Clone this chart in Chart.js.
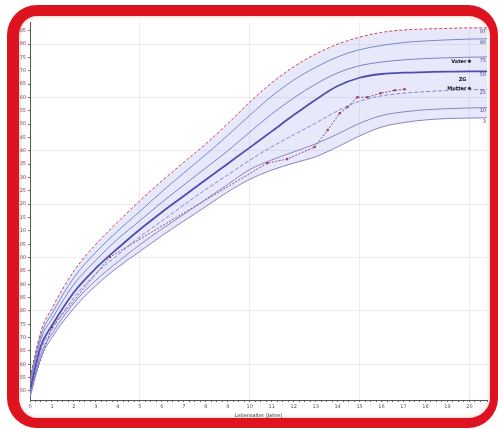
<!DOCTYPE html>
<html>
<head>
<meta charset="utf-8">
<script src="https://cdn.jsdelivr.net/npm/chart.js@4/dist/chart.umd.min.js"></script>
<style>
    html, body { margin: 0; padding: 0; background: #ffffff; }
    .wrap { position: relative; width: 498px; height: 429px; overflow: hidden; }
    #growthChart { position: absolute; left: 0; top: 0; }
    .frame {
        position: absolute; left: 7px; top: 5px; width: 491px; height: 423px;
        box-sizing: border-box;
        border-style: solid; border-color: #dd1420;
        border-width: 11px 8px 10px 12px;
        border-radius: 30px;
        box-shadow: inset 0 0 4px rgba(190, 120, 90, 0.45);
        pointer-events: none;
    }
</style>
</head>
<body>
<div class="wrap">
    <canvas id="growthChart" width="498" height="429"></canvas>
    <div class="frame"></div>
</div>
<script>
// ages in years
const ages = [0, 0.5, 1, 2, 3, 4, 5, 6, 7, 8, 9, 10, 11, 12, 13, 14, 15, 16, 17, 18, 19, 20, 20.8]

// percentile curves (cm)
const p97 = [55, 72.5, 81, 95, 105, 113.4, 121.3, 128.7, 135.7, 142.6, 150.2, 158.2, 165.5, 171.5, 176.3, 180, 182.6, 184.4, 185.3, 185.7, 185.9, 186.1, 186.1]
const p90 = [54, 71, 79, 92.5, 102, 110, 117.3, 124.7, 131.7, 138.6, 145.8, 153.3, 160.5, 166.5, 171.3, 175.2, 177.9, 179.5, 180.6, 181.2, 181.6, 181.9, 182]
const p75 = [52.5, 69.5, 77, 90, 99, 107, 113.8, 120.7, 127.2, 133.6, 140, 147, 153.8, 159.8, 165, 169.2, 171.9, 173.3, 174.1, 174.6, 174.9, 175.1, 175.2]
const p50 = [50.5, 67, 74.5, 87, 96, 103.5, 110.5, 117, 123.1, 129.2, 135.2, 141.2, 147.3, 153.4, 159.2, 164.3, 167.4, 168.8, 169.3, 169.5, 169.7, 169.8, 169.8]
const p25 = [49.5, 65.5, 73, 85, 94, 101, 107.8, 113.7, 119.7, 125.5, 131, 136.5, 141.5, 146, 150.4, 155, 158.6, 160.6, 161.6, 162.2, 162.6, 162.9, 163]
const p10 = [48.5, 64, 71.5, 83, 91.5, 98.4, 104.8, 110.7, 116.2, 121.8, 127.4, 133, 136.6, 139.6, 142.6, 146.3, 150.3, 153.2, 154.6, 155.4, 155.8, 156.1, 156.2]
const p3 = [47.5, 62.5, 70, 81, 89.5, 96.4, 102.3, 108.2, 113.7, 119.1, 124.6, 129.3, 132.8, 135.4, 137.8, 141.5, 145.6, 148.9, 150.6, 151.6, 152.1, 152.3, 152.4]
const percentileLabels = ['97', '90', '75', '50', '25', '10', '3']

// measured child
const childAges = [0, 1, 3.64, 10.8, 11.7, 12.95, 13.55, 14.1, 14.45, 14.9, 15.35, 15.95, 16.6, 17.05]
const childHeights = [50, 74, 100.2, 135.4, 136.9, 141.4, 147.8, 154.1, 156.4, 160.1, 160.1, 161.6, 162.7, 163.1]

// parents / target
const parentAges = [20, 20, 20]
const parentHeights = [173.6, 166.8, 163.4]
const parentLabels = ['Vater', 'ZG', 'Mutter']

const yTicks = [50, 55, 60, 65, 70, 75, 80, 85, 90, 95, 100, 105, 110, 115, 120, 125, 130, 135, 140, 145, 150, 155, 160, 165, 170, 175, 180, 185]

const toPoints = (xs, ys) => xs.map((x, i) => ({ x: x, y: ys[i] }))

function curve(values, color, width, dash) {
    return {
        data: toPoints(ages, values),
        borderColor: color,
        borderWidth: width,
        borderDash: dash || [],
        pointRadius: 0,
        cubicInterpolationMode: 'monotone',
        fill: false
    }
}

const bandTop = curve(p97, '#c83048', 0.9, [3, 2])
bandTop.fill = 6
bandTop.backgroundColor = 'rgba(150, 150, 235, 0.22)'

// labels at the end of curves + parent labels
const labelPlugin = {
    id: 'curveLabels',
    afterDatasetsDraw(chart) {
        const ctx = chart.ctx
        ctx.save()
        ctx.font = '5px "DejaVu Sans"'
        ctx.fillStyle = '#4a4a80'
        ctx.textAlign = 'right'
        ctx.textBaseline = 'top'
        for (let i = 0; i < 7; i++) {
            const pts = chart.getDatasetMeta(i).data
            const last = pts[pts.length - 1]
            ctx.fillText(percentileLabels[i], last.x - 1, last.y + 1)
        }
        const parentMeta = chart.getDatasetMeta(8).data
        ctx.font = 'bold 5px "DejaVu Sans"'
        ctx.fillStyle = '#111111'
        ctx.textBaseline = 'middle'
        parentMeta.forEach((pt, i) => {
            ctx.fillText(parentLabels[i], pt.x - 3, pt.y)
        })
        ctx.restore()
    }
}

const growthChart = new Chart(document.getElementById('growthChart'), {
    type: 'line',
    data: {
        datasets: [
            bandTop,
            curve(p90, '#5a78b8', 0.9),
            curve(p75, '#6868c0', 0.9),
            curve(p50, '#3a3a9c', 1.8),
            curve(p25, '#7070c0', 0.9, [4, 2]),
            curve(p10, '#7a70b8', 0.9),
            curve(p3, '#7a70b8', 0.9),
            {
                data: toPoints(childAges, childHeights),
                borderColor: '#8a3a5a',
                borderWidth: 1,
                borderDash: [2, 1.5],
                pointRadius: 1.3,
                pointBackgroundColor: '#9a3040',
                pointBorderWidth: 0,
                fill: false
            },
            {
                data: toPoints(parentAges, parentHeights),
                showLine: false,
                pointRadius: [1.6, 0, 1.6],
                pointBackgroundColor: '#111111',
                pointBorderWidth: 0
            }
        ]
    },
    options: {
        responsive: false,
        animation: false,
        layout: { padding: { left: 0, top: 22, right: 11, bottom: 10 } },
        plugins: {
            legend: { display: false },
            tooltip: { enabled: false }
        },
        scales: {
            x: {
                type: 'linear',
                min: 0,
                max: 20.8,
                afterFit: (scale) => { scale.height = 19 },
                border: { color: '#555555', width: 1 },
                grid: {
                    color: (c) => (c.tick && c.tick.value % 5 === 0 && c.tick.value > 0) ? '#ececec' : 'rgba(0,0,0,0)',
                    tickColor: '#666666',
                    tickLength: 2
                },
                ticks: {
                    stepSize: 0.25,
                    autoSkip: false,
                    maxRotation: 0,
                    padding: 2,
                    color: '#555566',
                    font: { size: 5, family: 'DejaVu Sans' },
                    callback: (v) => Number.isInteger(v) ? v : ''
                },
                title: {
                    display: true,
                    text: 'Lebensalter [Jahre]',
                    color: '#333333',
                    padding: 0,
                    font: { size: 5, family: 'DejaVu Sans' }
                }
            },
            y: {
                min: 46.6,
                max: 188.3,
                afterFit: (scale) => { scale.width = 30 },
                afterBuildTicks: (scale) => { scale.ticks = yTicks.map(v => ({ value: v })) },
                border: { color: '#555555', width: 1 },
                grid: {
                    color: (c) => (c.tick && c.tick.value % 20 === 0) ? '#ececec' : 'rgba(0,0,0,0)',
                    tickColor: '#777777',
                    tickLength: 2
                },
                ticks: {
                    padding: 2,
                    color: '#8a3a4a',
                    font: { size: 5, family: 'DejaVu Sans' }
                }
            }
        }
    },
    plugins: [labelPlugin]
});
</script>
</body>
</html>
